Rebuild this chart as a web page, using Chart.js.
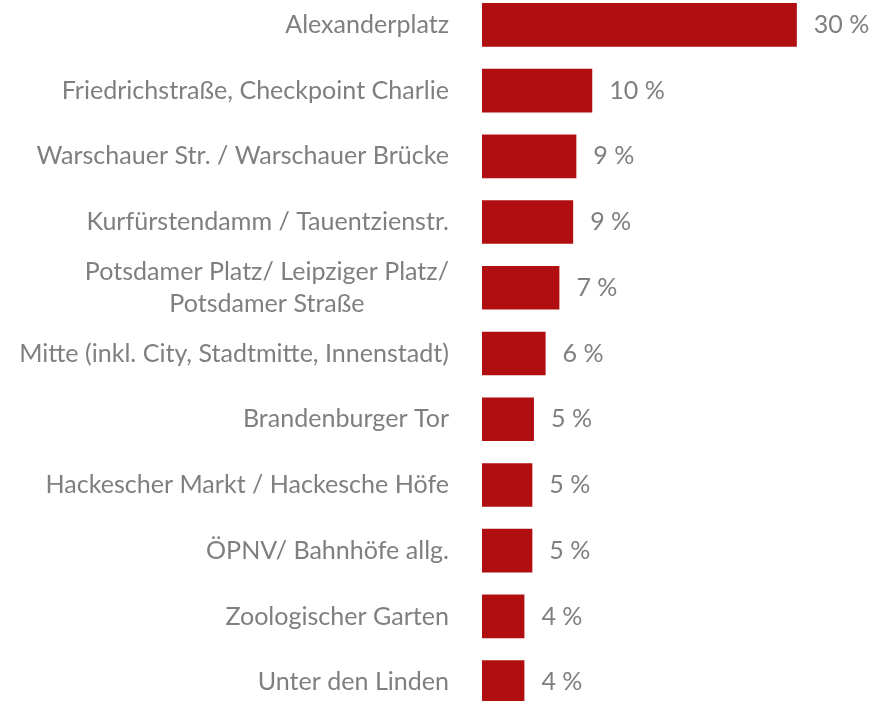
<!DOCTYPE html>
<html>
<head>
<meta charset="utf-8">
<script src="https://cdn.jsdelivr.net/npm/chart.js@4/dist/chart.umd.min.js"></script>
<style>
    html, body { margin: 0; padding: 0; background: #fff; overflow: hidden; }
    #wrap { position: absolute; left: 0; top: -8px; width: 888px; height: 723px; }
</style>
</head>
<body>
<div id="wrap"><canvas id="chart-places"></canvas></div>
<script>
const categories = [
    'Alexanderplatz',
    'Friedrichstraße, Checkpoint Charlie',
    'Warschauer Str. / Warschauer Brücke',
    'Kurfürstendamm / Tauentzienstr.',
    ['Potsdamer Platz/ Leipziger Platz/', 'Potsdamer Straße'],
    'Mitte (inkl. City, Stadtmitte, Innenstadt)',
    'Brandenburger Tor',
    'Hackescher Markt / Hackesche Höfe',
    'ÖPNV/ Bahnhöfe allg.',
    'Zoologischer Garten',
    'Unter den Linden',
];
const shares = [29.7, 10.4, 8.9, 8.6, 7.3, 6.0, 4.9, 4.75, 4.75, 4.0, 4.0];
const shareLabels = ['30 %', '10 %', '9 %', '9 %', '7 %', '6 %', '5 %', '5 %', '5 %', '4 %', '4 %'];

const textColor = '#7f7f7f';
const fontFamily = 'Lato, "Open Sans", sans-serif';

// size the font so the longest label spans like in the source
const measure = document.createElement('canvas').getContext('2d');
measure.font = '100px ' + fontFamily;
const fontSize = 100 * 430 / measure.measureText('Mitte (inkl. City, Stadtmitte, Innenstadt)').width;

const labelPlugin = {
    id: 'labels',
    afterDatasetsDraw(chart) {
        const ctx = chart.ctx;
        const yScale = chart.scales.y;
        const meta = chart.getDatasetMeta(0);
        ctx.save();
        ctx.font = fontSize + 'px ' + fontFamily;
        ctx.fillStyle = textColor;
        ctx.textBaseline = 'middle';

        // category labels, right aligned, multi-line blocks centred
        const right = yScale.right - 33;
        categories.forEach((cat, i) => {
            const y = yScale.getPixelForValue(i);
            const lines = Array.isArray(cat) ? cat : [cat];
            const lineH = fontSize * 1.3;
            const blockW = Math.max(...lines.map(l => ctx.measureText(l).width));
            lines.forEach((line, j) => {
                const ly = y + (j - (lines.length - 1) / 2) * lineH;
                if (lines.length > 1) {
                    ctx.textAlign = 'center';
                    ctx.fillText(line, right - blockW / 2, ly);
                } else {
                    ctx.textAlign = 'right';
                    ctx.fillText(line, right, ly);
                }
            });
        });

        // value labels after each bar
        ctx.textAlign = 'left';
        meta.data.forEach((bar, i) => {
            ctx.fillText(shareLabels[i], bar.x + 17, bar.y);
        });
        ctx.restore();
    },
};

new Chart(document.getElementById('chart-places'), {
    type: 'bar',
    data: {
        labels: categories,
        datasets: [{
            data: shares,
            backgroundColor: '#b10e11',
            borderWidth: 0,
            barPercentage: 0.664,
            categoryPercentage: 1,
        }],
    },
    options: {
        indexAxis: 'y',
        responsive: true,
        maintainAspectRatio: false,
        animation: false,
        layout: { padding: 0 },
        plugins: {
            legend: { display: false },
            tooltip: { enabled: false },
        },
        scales: {
            x: {
                display: false,
                min: 0,
                max: 38.3,
            },
            y: {
                display: true,
                grid: { display: false, drawTicks: false },
                border: { display: false },
                ticks: { display: false },
                afterFit(scale) {
                    scale.width = 482;
                },
            },
        },
    },
    plugins: [labelPlugin],
});
</script>
</body>
</html>
